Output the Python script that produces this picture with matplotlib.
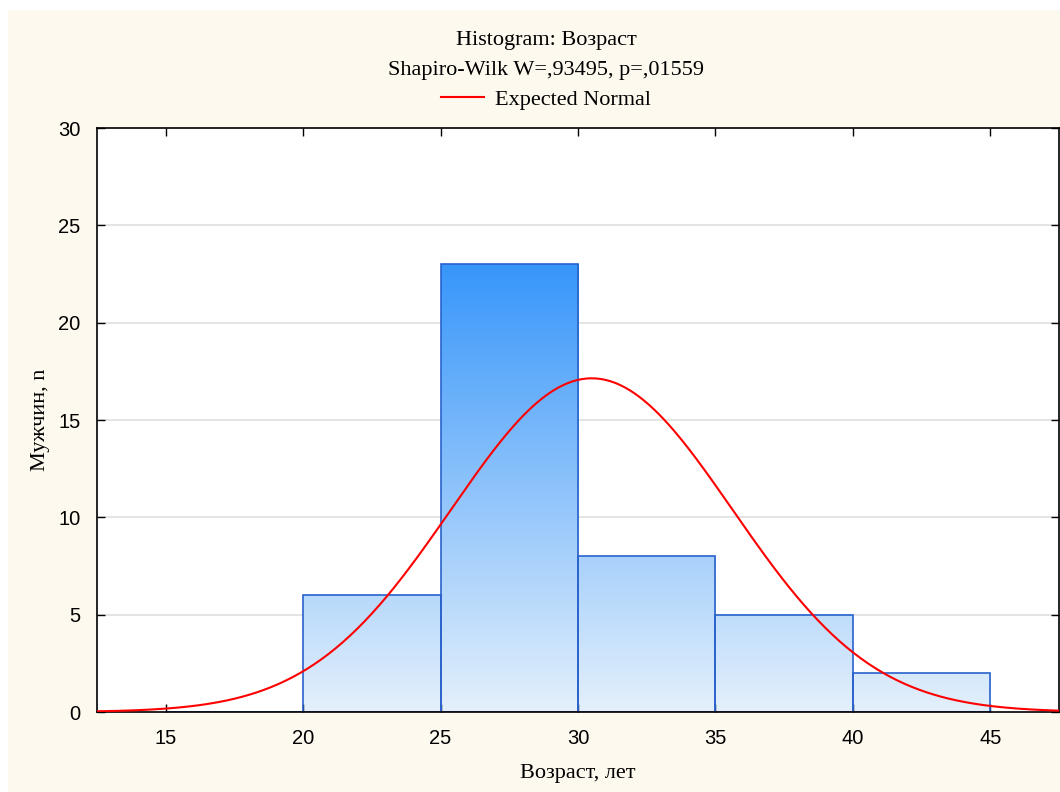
import numpy as np
import matplotlib
matplotlib.use('Agg')
import matplotlib.pyplot as plt
from matplotlib.colors import LinearSegmentedColormap
from matplotlib.patches import Rectangle

plt.rcParams['font.family'] = 'sans-serif'
plt.rcParams['font.sans-serif'] = ['Liberation Sans', 'DejaVu Sans']
serif = ['Liberation Serif', 'DejaVu Serif']

# histogram bins (age, years) and counts
bin_edges = [15, 20, 25, 30, 35, 40, 45]
counts = [0, 6, 23, 8, 5, 2]

# fitted normal curve parameters
fit_mean = 30.5
fit_sd = 5.12
n_total = sum(counts)
bin_width = 5

xticks = [15, 20, 25, 30, 35, 40, 45]
yticks = [0, 5, 10, 15, 20, 25, 30]

fig = plt.figure(figsize=(10.6, 7.92), dpi=100, facecolor='white')
fig.patches.append(Rectangle((8 / 1060, 0), 1, 1 - 10 / 792, transform=fig.transFigure,
                             facecolor='#FDF9EE', edgecolor='none', zorder=-10))

ax = fig.add_axes([97 / 1060, 80 / 792, 962 / 1060, 584 / 792])
ax.set_facecolor('white')

for y in yticks[1:-1]:
    ax.axhline(y, color='#E4E4E4', lw=1.4, zorder=0)

cmap = LinearSegmentedColormap.from_list('bars', ['#E4F0FC', '#3796FA'])
grad = np.linspace(0, 1, 256).reshape(-1, 1)
top = max(counts)
for x0, x1, c in zip(bin_edges[:-1], bin_edges[1:], counts):
    if c > 0:
        ax.imshow(grad[: int(256 * c / top)], extent=(x0, x1, 0, c),
                  origin='lower', aspect='auto', cmap=cmap, vmin=0, vmax=1,
                  interpolation='bilinear', zorder=1)
ax.bar(bin_edges[:-1], counts, width=bin_width, align='edge', facecolor='none',
       edgecolor='#2A62CC', lw=1.2, zorder=2)

xs = np.linspace(12.5, 47.5, 400)
peak = n_total * bin_width / (fit_sd * np.sqrt(2 * np.pi))
ys = peak * np.exp(-0.5 * ((xs - fit_mean) / fit_sd) ** 2)
ax.plot(xs, ys, color='#FF0000', lw=1.5, zorder=3, label='Expected Normal')
ax.set_xlim(12.5, 47.5)
ax.set_ylim(0, 30)

ax.set_xticks(xticks)
ax.set_yticks(yticks)
ax.tick_params(direction='in', length=6, width=1, top=True, right=True,
               labelsize=14.5, pad=12)
for s in ax.spines.values():
    s.set_linewidth(1.2)
    s.set_color('black')

ax.set_xlabel('Возраст, лет', family=serif, fontsize=16, labelpad=12)
ax.set_ylabel('Мужчин, n', family=serif, fontsize=16)
ax.yaxis.set_label_coords(-0.049, 0.5)

fig.text(546 / 1060, 1 - 40 / 792, 'Histogram: Возраст', family=serif, fontsize=16,
         ha='center', va='center')
fig.text(546 / 1060, 1 - 70 / 792, 'Shapiro-Wilk W=,93495, p=,01559', family=serif,
         fontsize=16, ha='center', va='center')
fig.legend(loc='center', bbox_to_anchor=(546 / 1060, 1 - 100 / 792), frameon=False,
           prop={'family': serif, 'size': 16}, handlelength=1.9, handletextpad=0.5)

fig.savefig('out.png', dpi=100, facecolor=fig.get_facecolor())
